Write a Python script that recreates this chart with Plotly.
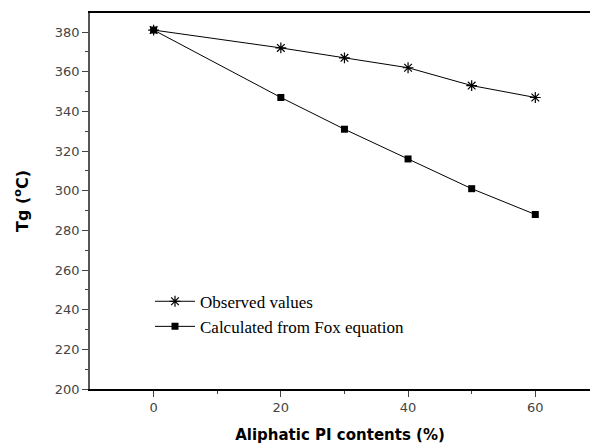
import plotly.graph_objects as go

content = [0, 20, 30, 40, 50, 60]
observed = [381, 372, 367, 362, 353, 347]
calculated = [381, 347, 331, 316, 301, 288]

fig = go.Figure()
fig.add_trace(go.Scatter(x=content, y=observed, mode="lines+markers",
                         name="Observed values",
                         line=dict(color="black", width=1),
                         marker=dict(symbol="asterisk-open", size=9, color="black",
                                     line=dict(color="black", width=1.2))))
fig.add_trace(go.Scatter(x=content, y=calculated, mode="lines+markers",
                         name="Calculated from Fox equation",
                         line=dict(color="black", width=1),
                         marker=dict(symbol="square", size=7, color="black")))

fig.update_layout(
    width=590, height=448,
    margin=dict(l=90, r=0, t=13, b=59),
    plot_bgcolor="white", paper_bgcolor="white",
    showlegend=True,
    legend=dict(x=0.12, y=0.28, xanchor="left", yanchor="top",
                font=dict(family="Liberation Serif", size=17, color="black"),
                bgcolor="rgba(0,0,0,0)", tracegroupgap=0, itemwidth=40),
)
fig.update_xaxes(range=[-10, 68.6], tickvals=[0, 20, 40, 60],
                 showline=True, linecolor="black", linewidth=1.5, mirror=True,
                 ticks="outside", ticklen=6, tickcolor="#444",
                 minor=dict(tickvals=[10, 30, 50], ticks="outside", ticklen=3, tickcolor="#444"),
                 showgrid=False, zeroline=False,
                 tickfont=dict(family="DejaVu Sans", size=13, color="#444"),
                 title=dict(text="<b>Aliphatic PI contents (%)</b>", standoff=15,
                            font=dict(family="DejaVu Sans", size=15, color="black")))
fig.update_yaxes(range=[200, 389.6], tickvals=list(range(200, 381, 20)),
                 showline=True, linecolor="#555", linewidth=1.5,
                 ticks="outside", ticklen=6, tickcolor="#444",
                 minor=dict(tickvals=list(range(210, 390, 20)), ticks="outside", ticklen=3, tickcolor="#444"),
                 showgrid=False, zeroline=False,
                 tickfont=dict(family="DejaVu Sans", size=13, color="#444"),
                 title=dict(text="<b>Tg (<sup>o</sup>C)</b>", standoff=22,
                            font=dict(family="DejaVu Sans", size=16, color="black")))
fig.write_html("out.html")
